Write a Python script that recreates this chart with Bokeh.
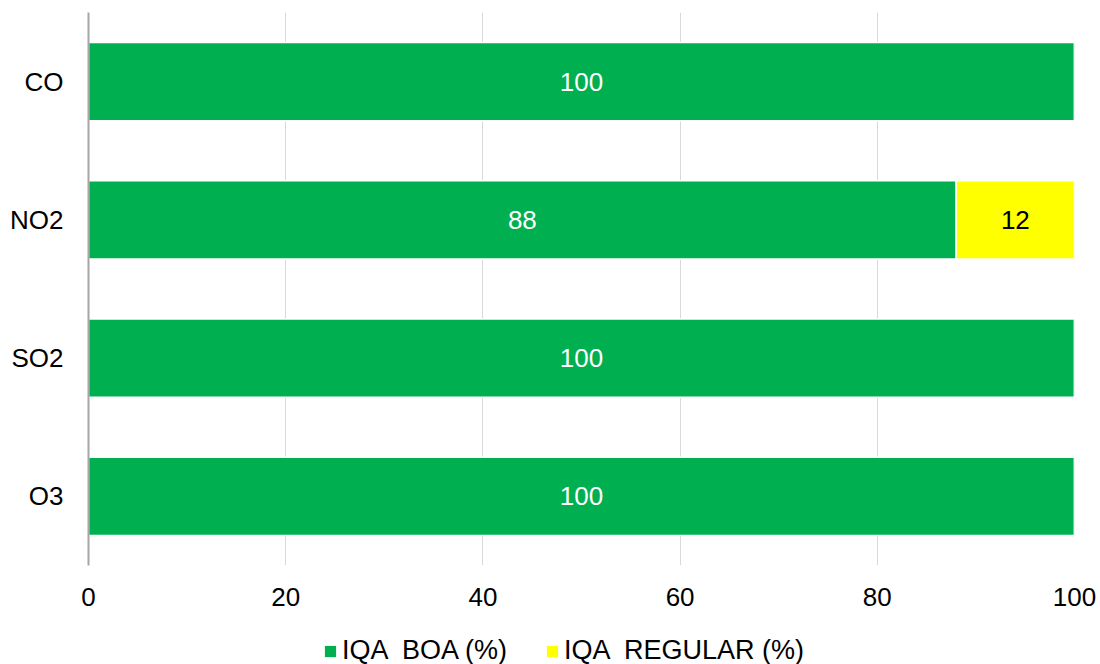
from bokeh.plotting import figure
from bokeh.layouts import column
from bokeh.models import FactorRange, Range1d, ColumnDataSource, Legend, LegendItem, FixedTicker
from bokeh.core.properties import value
from bokeh.embed import file_html
from bokeh.resources import INLINE

categories = ["CO", "NO2", "SO2", "O3"]
boa = [100, 88, 100, 100]
regular = [0, 12, 0, 0]
series_names = ["IQA  BOA (%)", "IQA  REGULAR (%)"]
colors = ["#00B050", "#FFFF00"]
x_ticks = [0, 20, 40, 60, 80, 100]

FONT = "Liberation Sans"
FS = "26px"

p = figure(width=1100, height=630, output_backend="svg", toolbar_location=None,
           y_range=FactorRange(factors=list(reversed(categories))),
           x_range=Range1d(0, 100),
           min_border_left=88, min_border_right=26, min_border_top=12, min_border_bottom=65)
p.outline_line_color = None

src = ColumnDataSource(dict(
    cat=categories,
    boa_left=[0] * len(boa),
    boa_right=boa,
    reg_left=boa,
    reg_right=[b + r for b, r in zip(boa, regular)],
))

p.hbar(y="cat", left="boa_left", right="boa_right", height=0.565, source=src,
       fill_color=colors[0], line_color="white", line_width=1.5)
p.hbar(y="cat", left="reg_left", right="reg_right", height=0.565, source=src,
       fill_color=colors[1], line_color="white", line_width=1.5)

# data labels
lab_boa = ColumnDataSource(dict(
    x=[b / 2 for b in boa if b > 0],
    y=[c for c, b in zip(categories, boa) if b > 0],
    t=[str(b) for b in boa if b > 0]))
lab_reg = ColumnDataSource(dict(
    x=[b + r / 2 for b, r in zip(boa, regular) if r > 0],
    y=[c for c, r in zip(categories, regular) if r > 0],
    t=[str(r) for r in regular if r > 0]))
p.text(x="x", y="y", text="t", source=lab_boa, text_align="center", text_baseline="middle",
       text_color="white", text_font=value(FONT), text_font_size=FS)
p.text(x="x", y="y", text="t", source=lab_reg, text_align="center", text_baseline="middle",
       text_color="black", text_font=value(FONT), text_font_size=FS)

# axes
p.xaxis.ticker = FixedTicker(ticks=x_ticks)
p.xaxis.axis_line_color = None
p.xaxis.major_tick_line_color = None
p.xaxis.minor_tick_line_color = None
p.xaxis.major_label_text_font = FONT
p.xaxis.major_label_text_font_size = FS
p.xaxis.major_label_text_color = "black"
p.xaxis.major_label_standoff = 16

p.yaxis.axis_line_color = "#A6A6A6"
p.yaxis.axis_line_width = 2
p.yaxis.major_tick_line_color = None
p.yaxis.minor_tick_line_color = None
p.yaxis.major_label_text_font = FONT
p.yaxis.major_label_text_font_size = FS
p.yaxis.major_label_text_color = "black"
p.yaxis.major_label_standoff = 19

p.ygrid.grid_line_color = None
p.xgrid.grid_line_color = "#D9D9D9"
p.xgrid.grid_line_width = 1

# legend strip below the chart (placeholder renderers outside the visible range)
lg = figure(width=1100, height=34, output_backend="svg", toolbar_location=None,
            x_range=Range1d(0, 1), y_range=Range1d(0, 1),
            min_border=0, min_border_left=0, min_border_right=0,
            min_border_top=0, min_border_bottom=0)
lg.axis.visible = False
lg.grid.visible = False
lg.outline_line_color = None
proxy = ColumnDataSource(dict(x=[-5], y=[-5]))
g1 = lg.rect(x="x", y="y", width=0.1, height=0.1, source=proxy,
             fill_color=colors[0], line_color=None)
g2 = lg.rect(x="x", y="y", width=0.1, height=0.1, source=proxy,
             fill_color=colors[1], line_color=None)
legend = Legend(items=[LegendItem(label=series_names[0], renderers=[g1]),
                       LegendItem(label=series_names[1], renderers=[g2])],
                orientation="horizontal", location=(235, -2),
                label_text_font=FONT, label_text_font_size="27px", label_text_color="black",
                label_text_baseline="middle",
                glyph_width=14, glyph_height=14, label_standoff=5, spacing=38,
                border_line_color=None, background_fill_alpha=0,
                padding=0, margin=0)
lg.add_layout(legend, "center")

layout = column(p, lg, spacing=0)
open("out.html", "w").write(file_html(layout, INLINE))
